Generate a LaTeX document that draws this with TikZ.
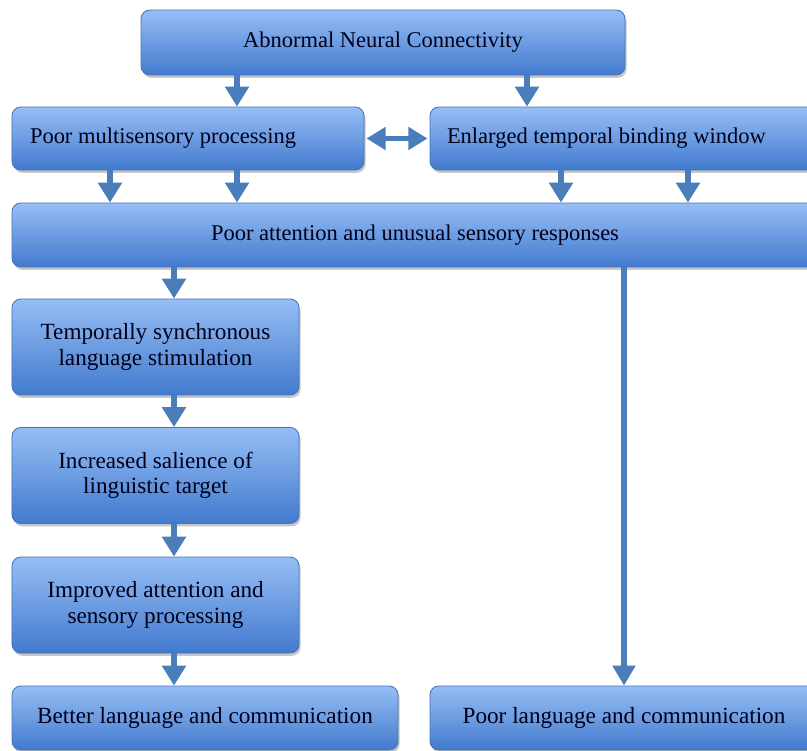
\documentclass[tikz,border=0pt]{standalone}
\usepackage{fontspec}
\setmainfont{Liberation Serif}
\usetikzlibrary{arrows.meta,shadows,calc}

\definecolor{boxtop}{RGB}{150,190,245}
\definecolor{boxbottom}{RGB}{66,122,206}
\definecolor{boxline}{RGB}{70,115,185}
\definecolor{arrowblue}{RGB}{74,126,187}

\tikzset{
  flowbox/.style={draw=boxline, line width=0.6pt, rounded corners=0.22cm,
    top color=boxtop, bottom color=boxbottom, inner sep=0pt,
    drop shadow={opacity=0.45, shadow xshift=0.04cm, shadow yshift=-0.07cm},
    font=\fontsize{16}{19}\selectfont, text=black!90!blue},
  fatarrow/.style={draw=arrowblue, line width=0.15cm,
    -{Triangle[width=0.58cm,length=0.5cm]}, arrowblue},
  thinarrow/.style={draw=arrowblue, line width=0.13cm,
    -{Triangle[width=0.55cm,length=0.5cm]}, arrowblue},
  bothway/.style={draw=arrowblue, line width=0.12cm,
    {Triangle[width=0.55cm,length=0.48cm]}-{Triangle[width=0.55cm,length=0.48cm]}, arrowblue}
}

\begin{document}
\begin{tikzpicture}
   \useasboundingbox (0,0) rectangle (20.175,-18.75);
   \clip (0,0) rectangle (20.175,-18.75);

   %top row
   \node[flowbox, minimum width=12.1cm, minimum height=1.625cm] (neural) at (9.575,-1.0625) {Abnormal Neural Connectivity};
   \node[flowbox, minimum width=8.8cm, minimum height=1.575cm, text width=7.9cm, align=flush left] (multi) at (4.7,-3.4625) {Poor multisensory processing};
   \node[flowbox, minimum width=9.7cm, minimum height=1.575cm, text width=8.85cm, align=flush left] (window) at (15.6,-3.4625) {Enlarged temporal binding window};
   \node[flowbox, minimum width=20.15cm, minimum height=1.6cm] (attention) at (10.375,-5.875) {Poor attention and unusual sensory responses};

   %left column
   \node[flowbox, minimum width=7.175cm, minimum height=2.4cm, align=center, font=\fontsize{16.5}{18}\selectfont] (stim) at (3.8875,-8.675) {Temporally synchronous\\language stimulation};
   \node[flowbox, minimum width=7.175cm, minimum height=2.4cm, align=center, font=\fontsize{16.5}{18}\selectfont] (salience) at (3.8875,-11.8875) {Increased salience of\\linguistic target};
   \node[flowbox, minimum width=7.175cm, minimum height=2.4cm, align=center, font=\fontsize{16.5}{18}\selectfont] (improved) at (3.8875,-15.125) {Improved attention and\\sensory processing};

   %bottom row
   \node[flowbox, minimum width=9.65cm, minimum height=1.6cm, font=\fontsize{16.5}{20}\selectfont] (better) at (5.125,-17.95) {Better language and communication};
   \node[flowbox, minimum width=9.7cm, minimum height=1.6cm, font=\fontsize{16.5}{20}\selectfont] (poorlang) at (15.6,-17.95) {Poor language and communication};

   %arrow columns
   \coordinate (colA) at (5.925,0);
   \coordinate (colB) at (13.175,0);
   \coordinate (colC) at (2.75,0);
   \coordinate (colD) at (14.025,0);
   \coordinate (colE) at (17.2,0);
   \coordinate (colF) at (4.35,0);

   %draw arrows
   \draw[fatarrow] (neural.south -| colA) -- (multi.north -| colA);
   \draw[fatarrow] (neural.south -| colB) -- (window.north -| colB);
   \draw[fatarrow] (multi.south -| colC) -- (attention.north -| colC);
   \draw[fatarrow] (multi.south -| colA) -- (attention.north -| colA);
   \draw[fatarrow] (window.south -| colD) -- (attention.north -| colD);
   \draw[fatarrow] (window.south -| colE) -- (attention.north -| colE);
   \draw[fatarrow] (attention.south -| colF) -- (stim.north -| colF);
   \draw[fatarrow] (stim.south -| colF) -- (salience.north -| colF);
   \draw[fatarrow] (salience.south -| colF) -- (improved.north -| colF);
   \draw[fatarrow] (improved.south -| colF) -- (better.north -| colF);
   \draw[thinarrow] (attention.south -| poorlang.north) -- (poorlang.north);
   \draw[bothway] ([xshift=0.05cm]multi.east) -- ([xshift=-0.05cm]window.west |- multi.east);
\end{tikzpicture}
\end{document}
